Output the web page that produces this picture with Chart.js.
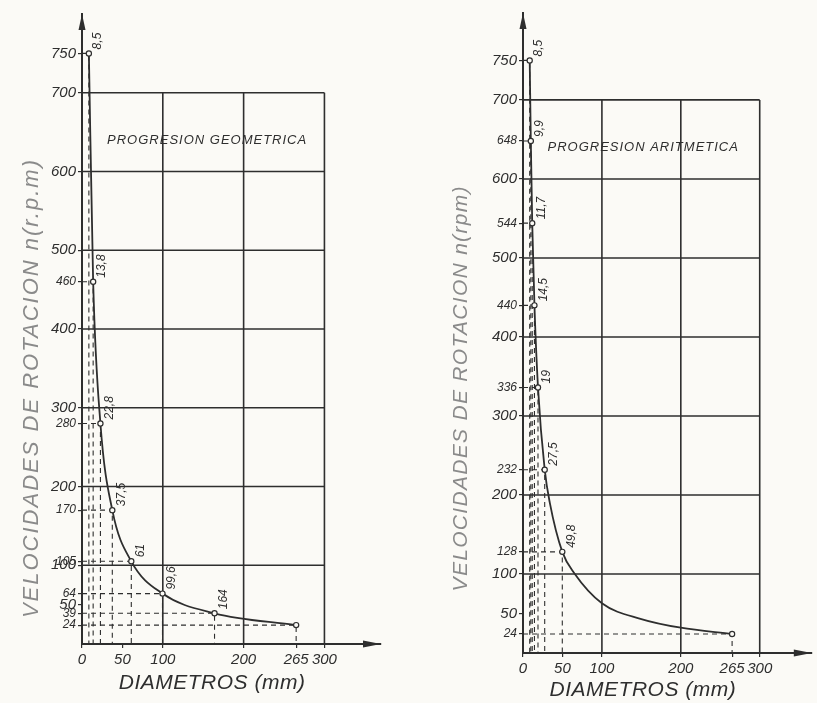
<!DOCTYPE html>
<html>
<head>
<meta charset="utf-8">
<script src="https://cdn.jsdelivr.net/npm/chart.js@4.4.1/dist/chart.umd.min.js"></script>
<style>
  html, body { margin: 0; padding: 0; background: #fbfaf6; }
  #wrap { position: relative; width: 817px; height: 703px; }
  .caja { position: absolute; top: 0; height: 703px; }
  #izq { left: 0; width: 408px; }
  #der { left: 408px; width: 409px; }
</style>
</head>
<body>
<div id="wrap">
  <div class="caja" id="izq"><canvas id="graficoGeo" width="408" height="703"></canvas></div>
  <div class="caja" id="der"><canvas id="graficoArit" width="409" height="703"></canvas></div>
</div>
<script>
// datos : diametros (mm) y velocidades (r.p.m)
const geoDiametros   = [8.5, 13.8, 22.8, 37.5, 61, 99.6, 164, 265];
const geoVelocidades = [750, 460, 280, 170, 105, 64, 39, 24];
const geoEtiquetas   = ['8,5', '13,8', '22,8', '37,5', '61', '99,6', '164'];
const geoTicksGrandes = [50, 100, 200, 300, 400, 500, 600, 700, 750];
const geoTicksChicos  = [24, 39, 64, 105, 170, 280, 460];

const aritDiametros   = [8.5, 9.9, 11.7, 14.5, 19, 27.5, 49.8, 265];
const aritVelocidades = [750, 648, 544, 440, 336, 232, 128, 24];
const aritEtiquetas   = ['8,5', '9,9', '11,7', '14,5', '19', '27,5', '49,8'];
const aritTicksGrandes = [50, 100, 200, 300, 400, 500, 600, 700, 750];
const aritTicksChicos  = [24, 128, 232, 336, 440, 544, 648];

// trazo de la curva aritmetica (entre los puntos marcados)
const aritCurvaX = [8.5, 9.9, 11.7, 14.5, 19, 27.5, 34, 49.8, 65, 100, 150, 200, 265];
const aritCurvaY = [750, 648, 544, 440, 336, 232, 190, 128, 101, 63, 43, 32, 24];

const ticksX = [0, 50, 100, 200, 265, 300];
const rejillaX = [100, 200, 300];
const rejillaY = [100, 200, 300, 400, 500, 600, 700];

const fondo = '#fbfaf6';
const tinta = '#2e2e2e';
const fuente = "'Liberation Sans', 'DejaVu Sans', sans-serif";

// plugin que dibuja la rejilla, las flechas y los textos del dibujo
function pluginDibujo(cfg) {
    return {
        id: 'dibujo',
        beforeDatasetsDraw(chart) {
            const ctx = chart.ctx;
            const x = chart.scales.x, y = chart.scales.y;
            ctx.save();
            ctx.strokeStyle = tinta;
            ctx.lineWidth = 1.6;
            rejillaY.forEach(v => {                      // lineas horizontales
                ctx.beginPath();
                ctx.moveTo(x.getPixelForValue(0), y.getPixelForValue(v));
                ctx.lineTo(x.getPixelForValue(300), y.getPixelForValue(v));
                ctx.stroke();
            });
            rejillaX.forEach(v => {                      // lineas verticales
                ctx.beginPath();
                ctx.moveTo(x.getPixelForValue(v), y.getPixelForValue(0));
                ctx.lineTo(x.getPixelForValue(v), y.getPixelForValue(700));
                ctx.stroke();
            });
            ctx.restore();
        },
        afterDraw(chart) {
            const ctx = chart.ctx;
            const area = chart.chartArea;
            const x = chart.scales.x, y = chart.scales.y;
            ctx.save();
            ctx.fillStyle = tinta;
            // flecha del eje vertical
            ctx.beginPath();
            ctx.moveTo(area.left, area.top);
            ctx.lineTo(area.left - 3.5, area.top + 16);
            ctx.lineTo(area.left + 3.5, area.top + 16);
            ctx.closePath();
            ctx.fill();
            // flecha del eje horizontal
            ctx.beginPath();
            ctx.moveTo(area.right, area.bottom);
            ctx.lineTo(area.right - 18, area.bottom - 3.5);
            ctx.lineTo(area.right - 18, area.bottom + 3.5);
            ctx.closePath();
            ctx.fill();

            // titulo del grafico
            ctx.font = 'italic 13px ' + fuente;
            ctx.letterSpacing = '1px';
            ctx.textAlign = 'left';
            ctx.textBaseline = 'middle';
            ctx.fillText(cfg.titulo, x.getPixelForValue(31), y.getPixelForValue(640));
            ctx.letterSpacing = '0px';

            // etiquetas de los diametros junto a cada punto
            ctx.font = 'italic 12px ' + fuente;
            cfg.etiquetas.forEach((txt, i) => {
                const px = x.getPixelForValue(cfg.diam[i]) + 9;
                const py = y.getPixelForValue(cfg.vel[i]) - 4;
                ctx.save();
                ctx.translate(px, py);
                ctx.rotate(-Math.PI / 2);
                ctx.textAlign = 'left';
                ctx.textBaseline = 'middle';
                ctx.fillText(txt, 0, 0);
                ctx.restore();
            });

            // titulo del eje y (gris, girado)
            ctx.save();
            ctx.translate(area.left + cfg.tituloYdx, y.getPixelForValue(cfg.tituloYv));
            ctx.rotate(-Math.PI / 2);
            ctx.font = 'italic ' + cfg.tituloYtam + 'px ' + fuente;
            ctx.letterSpacing = cfg.tituloYesp + 'px';
            ctx.fillStyle = '#8a8a8a';
            ctx.textAlign = 'center';
            ctx.textBaseline = 'middle';
            ctx.fillText(cfg.tituloY, 0, 0);
            ctx.restore();

            // titulo del eje x
            ctx.font = 'italic 21px ' + fuente;
            ctx.letterSpacing = '0.5px';
            ctx.textAlign = 'center';
            ctx.textBaseline = 'middle';
            ctx.fillText('DIAMETROS (mm)', x.getPixelForValue(cfg.tituloXv), area.bottom + cfg.tituloXdy);
            ctx.restore();
        }
    };
}

function crearGrafico(id, cfg) {
    const ticksY = cfg.grandes.concat(cfg.chicos).sort((a, b) => a - b);
    const curva = cfg.curvaX.map((d, i) => ({x: d, y: cfg.curvaY[i]}));
    const puntos = cfg.diam.map((d, i) => ({x: d, y: cfg.vel[i]}));
    // lineas de trazos desde cada punto hacia los dos ejes
    const guias = cfg.diam.map((d, i) => ({
        data: [{x: 0, y: cfg.vel[i]}, {x: d, y: cfg.vel[i]}, {x: d, y: 0}],
        borderColor: tinta,
        borderWidth: 1.1,
        borderDash: [5, 4],
        pointRadius: 0,
        tension: 0
    }));

    return new Chart(id, {
        type: 'line',
        data: {
            datasets: [{
                data: puntos,
                showLine: false,
                pointRadius: 2.6,
                pointBackgroundColor: fondo,
                pointBorderColor: tinta,
                pointBorderWidth: 1.2
            }, {
                data: curva,
                borderColor: tinta,
                borderWidth: 1.8,
                pointRadius: 0,
                cubicInterpolationMode: 'monotone'
            }].concat(guias)
        },
        options: {
            responsive: false,
            devicePixelRatio: 1,
            animation: false,
            layout: {padding: cfg.padding},
            plugins: {legend: {display: false}, tooltip: {enabled: false}},
            scales: {
                x: {
                    type: 'linear', min: 0, max: cfg.maxX,
                    afterBuildTicks: s => { s.ticks = ticksX.map(v => ({value: v})); },
                    afterFit: s => { s.height = cfg.altoX; },
                    grid: {drawOnChartArea: false, color: tinta, lineWidth: 1.2, tickLength: 4},
                    border: {color: tinta, width: 2},
                    ticks: {
                        autoSkip: false, maxRotation: 0, padding: 3, color: tinta,
                        callback: v => String(v),
                        font: {family: fuente, style: 'italic', size: 15}
                    }
                },
                y: {
                    type: 'linear', min: 0, max: cfg.maxY,
                    afterBuildTicks: s => { s.ticks = ticksY.map(v => ({value: v})); },
                    afterFit: s => { s.width = cfg.anchoY; },
                    grid: {drawOnChartArea: false, color: tinta, lineWidth: 1.2, tickLength: 4},
                    border: {color: tinta, width: 2},
                    ticks: {
                        autoSkip: false, padding: 2, color: tinta,
                        callback: v => String(v),
                        font: ctx => ({
                            family: fuente, style: 'italic',
                            size: (ctx.tick && cfg.chicos.includes(ctx.tick.value)) ? 12 : 15
                        })
                    }
                }
            }
        },
        plugins: [pluginDibujo(cfg)]
    });
}

window.onload = function () {
    crearGrafico('graficoGeo', {
        diam: geoDiametros, vel: geoVelocidades, etiquetas: geoEtiquetas,
        curvaX: geoDiametros, curvaY: geoVelocidades,
        grandes: geoTicksGrandes, chicos: geoTicksChicos,
        titulo: 'PROGRESION GEOMETRICA',
        tituloY: 'VELOCIDADES DE ROTACION n(r.p.m)', tituloYdx: -50, tituloYv: 325, tituloYtam: 22, tituloYesp: 2,
        tituloXv: 161, tituloXdy: 39,
        maxX: 370, maxY: 800, anchoY: 82, altoX: 59,
        padding: {top: 14, right: 27, left: 0, bottom: 0}
    });
    crearGrafico('graficoArit', {
        diam: aritDiametros, vel: aritVelocidades, etiquetas: aritEtiquetas,
        curvaX: aritCurvaX, curvaY: aritCurvaY,
        grandes: aritTicksGrandes, chicos: aritTicksChicos,
        titulo: 'PROGRESION ARITMETICA',
        tituloY: 'VELOCIDADES DE ROTACION n(rpm)', tituloYdx: -62, tituloYv: 335, tituloYtam: 21, tituloYesp: 1.3,
        tituloXv: 152, tituloXdy: 37,
        maxX: 366, maxY: 810, anchoY: 115, altoX: 50,
        padding: {top: 13, right: 1, left: 0, bottom: 0}
    });
};
</script>
</body>
</html>
